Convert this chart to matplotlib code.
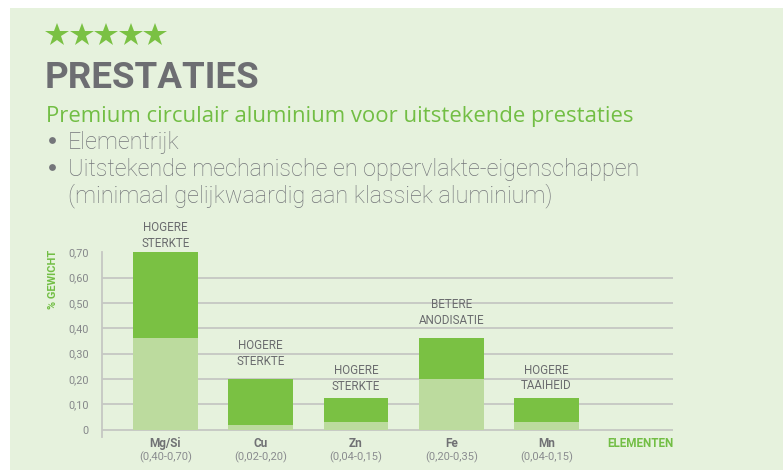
import matplotlib
matplotlib.use("Agg")
import matplotlib.pyplot as plt
from matplotlib.transforms import blended_transform_factory
from matplotlib.patches import Rectangle

# ---------------- data ----------------
elements = ["Mg/Si", "Cu", "Zn", "Fe", "Mn"]
ranges = ["(0,40-0,70)", "(0,02-0,20)", "(0,04-0,15)", "(0,20-0,35)", "(0,04-0,15)"]
low_values = [0.36, 0.018, 0.03, 0.20, 0.03]
high_values = [0.70, 0.20, 0.125, 0.36, 0.125]
bar_labels = ["HOGERE\nSTERKTE", "HOGERE\nSTERKTE", "HOGERE\nSTERKTE",
              "BETERE\nANODISATIE", "HOGERE\nTAAIHEID"]
y_ticks = [0, 0.1, 0.2, 0.3, 0.4, 0.5, 0.6, 0.7]
y_tick_labels = ["0", "0,10", "0,20", "0,30", "0,40", "0,50", "0,60", "0,70"]
stars = 5

title = "PRESTATIES"
subtitle = "Premium circulair aluminium voor uitstekende prestaties"
bullets = ["Elementrijk",
           "Uitstekende mechanische en oppervlakte-eigenschappen\n(minimaal gelijkwaardig aan klassiek aluminium)"]

# ---------------- style ----------------
W, H = 783, 470
DPI = 100
PANEL = "#e6f2dd"
DARK = "#7ac143"
LIGHT = "#bcdb9e"
GRID = "#c5c7c3"
TITLE_C = "#6d6e72"
TEXT_C = "#74767a"
LABEL_C = "#6a6b6e"
GREEN_T = "#72be44"
FONT = "Roboto"
label_gap_px = [5.6, 14, 8, 14.7, 8.7]

fig = plt.figure(figsize=(W / DPI, H / DPI), dpi=DPI, facecolor="white")

# background / header axes in pixel coordinates
bg = fig.add_axes([0, 0, 1, 1], zorder=0)
bg.set_xlim(0, W)
bg.set_ylim(H, 0)
bg.axis("off")
bg.add_patch(Rectangle((10, 8), W - 10, H - 8, facecolor=PANEL, edgecolor="none"))

# stars
star_x = [57 + 24.5 * i for i in range(stars)]
bg.plot(star_x, [34.5] * stars, linestyle="none", marker="*", markersize=17.5,
        color=DARK, markeredgewidth=0)

bg.text(45, 88, title, fontfamily=FONT, fontweight="bold", fontsize=26.5,
        color=TITLE_C, ha="left", va="baseline")
bg.text(45.5, 121.7, subtitle, fontfamily="Open Sans", fontweight="normal", fontsize=15.9,
        color=GREEN_T, ha="left", va="baseline")

bullet_baselines = [149.3, 176.0]
line_step = 26.7
for b, y in zip(bullets, bullet_baselines):
    bg.plot([51.7], [y - 9.0], marker="o", markersize=4.9, color=TEXT_C,
            markeredgewidth=0, linestyle="none")
    for k, line in enumerate(b.split("\n")):
        bg.text(67.5, y + k * line_step, line, fontfamily=FONT, fontweight="light",
                fontsize=16.8, color=TEXT_C, ha="left", va="baseline")

# chart axes
ax_left, ax_right = 102.3, 672.7
ax_top, ax_bottom = 252.3, 436.9
ax = fig.add_axes([ax_left / W, (H - ax_bottom) / H, (ax_right - ax_left) / W,
                   (ax_bottom - ax_top) / H], zorder=2)
ax.patch.set_alpha(0)

x = list(range(len(elements)))
ax.bar(x, low_values, width=0.68, color=LIGHT, zorder=3)
ax.bar(x, [h - l for h, l in zip(high_values, low_values)], bottom=low_values,
       width=0.68, color=DARK, zorder=3)

ax.set_xlim(-0.661, len(elements) - 1 + 1.324)
ax.set_ylim(-0.029, 0.70)
for t in y_ticks[:-1]:
    ax.axhline(t, color=GRID, linewidth=1.3, zorder=1)

ax.set_yticks(y_ticks)
ax.set_yticklabels(y_tick_labels, fontfamily=FONT, fontsize=7.8, color="#85878a")
ax.tick_params(axis="y", length=0, pad=9.6)
ax.set_xticks([])
for s in ["top", "right", "bottom"]:
    ax.spines[s].set_visible(False)
ax.spines["left"].set_color(GRID)
ax.spines["left"].set_linewidth(1.3)

# bar annotations
for i, (lab, top, gap) in enumerate(zip(bar_labels, high_values, label_gap_px)):
    lines = lab.split("\n")
    for k, line in enumerate(reversed(lines)):
        ax.annotate(line, xy=(i, top), xytext=(0, (gap + k * 15.7) * 72 / DPI),
                    textcoords="offset points", ha="center", va="baseline",
                    fontfamily=FONT, fontsize=8.4, color=LABEL_C, annotation_clip=False)

# category labels
tr = blended_transform_factory(ax.transData, bg.transData)
for i, (el, rg) in enumerate(zip(elements, ranges)):
    bg.text(i, 446.7, el, transform=tr, ha="center", va="baseline", fontfamily=FONT,
            fontweight="bold", fontsize=8.5, color="#707174")
    bg.text(i, 460.5, rg, transform=tr, ha="center", va="baseline", fontfamily=FONT,
            fontsize=8.0, color="#8a8c8f")

bg.text(674, 447, "ELEMENTEN", ha="right", va="baseline", fontfamily=FONT,
        fontweight="bold", fontsize=8.4, color=GREEN_T, zorder=3)
bg.text(53.3, 279.5, "% GEWICHT", rotation=90, ha="center", va="center",
        fontfamily=FONT, fontweight="bold", fontsize=7.9, color=GREEN_T)

fig.savefig("out.png", dpi=DPI, facecolor="white")
